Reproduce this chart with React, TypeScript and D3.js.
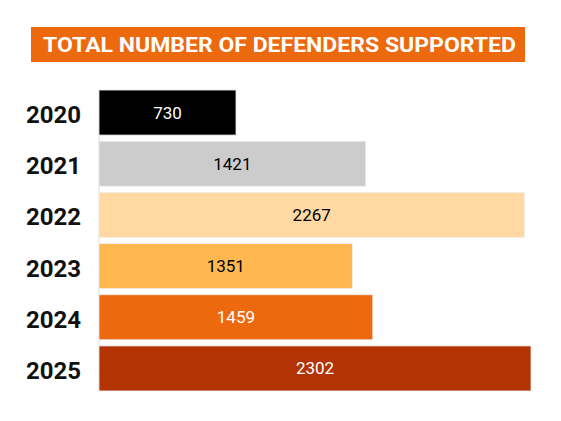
import { scaleBand, scaleLinear } from "d3";

const years = ["2020", "2021", "2022", "2023", "2024", "2025"];
const defenders = [730, 1421, 2267, 1351, 1459, 2302];
const barColors = ["#000000", "#cccccc", "#ffd9a1", "#ffb84f", "#ec6a0d", "#b33304"];
const labelColors = ["#ffffff", "#000000", "#000000", "#000000", "#ffffff", "#ffffff"];
const title = "TOTAL NUMBER OF DEFENDERS SUPPORTED";

const width = 561;
const height = 421;
const left = 99;
const right = 531;

const App = () => {
  const x = scaleLinear().domain([0, 2302]).range([left, right]);
  const y = scaleBand().domain(years).range([89, 392]).paddingInner(0.12).paddingOuter(0.02);

  return (
    <svg
      width={width}
      height={height}
      style={{ position: "absolute", left: 0, top: 0 }}
      fontFamily="Roboto, sans-serif"
    >
      <rect width={width} height={height} fill="#ffffff" />
      <rect x={31} y={27} width={494} height={35} fill="#ec6a0d" />
      <text
        x={43}
        y={51.7}
        fill="#ffffff"
        fontSize={20}
        fontWeight={700}
        textLength={473}
        lengthAdjust="spacingAndGlyphs"
      >
        {title}
      </text>
      <line x1={left} x2={left} y1={y.range()[0]} y2={y.range()[1]} stroke="#dddddd" />
      {years.map((yr, i) => (
        <g key={yr}>
          <rect
            x={x(0)}
            y={y(yr)!}
            width={x(defenders[i]) - x(0)}
            height={y.bandwidth()}
            fill={barColors[i]}
            stroke="#eeeeee"
            strokeWidth={0.8}
          />
          <text
            x={(x(0) + x(defenders[i])) / 2}
            y={y(yr)! + y.bandwidth() / 2}
            fill={labelColors[i]}
            fontSize={17}
            textAnchor="middle"
            dominantBaseline="central"
          >
            {defenders[i]}
          </text>
          <text
            x={81}
            y={y(yr)! + y.bandwidth() / 2 + 2.5}
            fill="#111111"
            fontSize={24}
            fontWeight={700}
            textAnchor="end"
            dominantBaseline="central"
          >
            {yr}
          </text>
        </g>
      ))}
    </svg>
  );
};

export default App;
